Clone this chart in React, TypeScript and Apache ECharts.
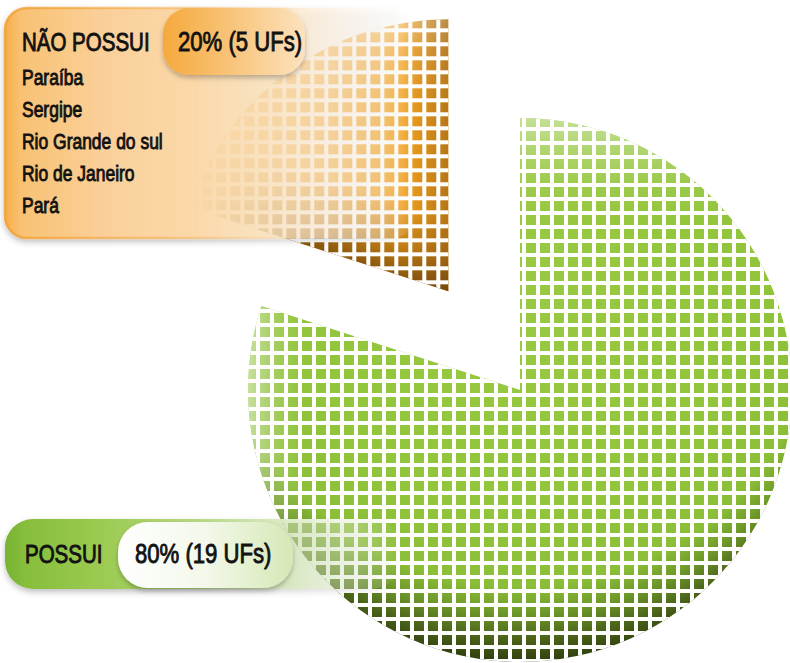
import React, { useEffect, useRef } from 'react';
import * as echarts from 'echarts';

// ---- data ----
const categories = ['POSSUI', 'NÃO POSSUI'];
const percentages = [80, 20];
const ufCounts = [19, 5];
const statesWithout = ['Paraíba', 'Sergipe', 'Rio Grande do sul', 'Rio de Janeiro', 'Pará'];

const FONT = '"Liberation Sans", Arial, "DejaVu Sans", sans-serif';
const NARROW = 0.82;

type Stop = [number, string];
const lin = (x: number, y: number, x2: number, y2: number, stops: Stop[]) =>
  new echarts.graphic.LinearGradient(x, y, x2, y2, stops.map(([offset, color]) => ({ offset, color })));
const rad = (x: number, y: number, r: number, stops: Stop[]) =>
  new echarts.graphic.RadialGradient(x, y, r, stops.map(([offset, color]) => ({ offset, color })));

// per-layer colours: [POSSUI (green), NÃO POSSUI (orange)]
const layerColors = () => [
  [
    rad(0.5, 0.3, 0.7, [
      [0, '#99c943'],
      [0.6, '#92c53b'],
      [0.8, '#8cbf38'],
      [0.87, '#6f9a2a'],
      [0.94, '#4b6419'],
      [1, '#2f3f0e'],
    ]),
    lin(0, 0, 0, 1, [
      [0, '#f9c878'],
      [0.12, '#f7b040'],
      [0.3, '#f5a623'],
      [1, '#f3a120'],
    ]),
  ],
  [
    lin(0, 0, 1, 0, [
      [0, 'rgba(255,255,255,0.5)'],
      [0.05, 'rgba(255,255,255,0.18)'],
      [0.1, 'rgba(255,255,255,0)'],
      [1, 'rgba(255,255,255,0)'],
    ]),
    lin(0, 0, 1, 0, [
      [0, 'rgba(90,50,0,0)'],
      [0.82, 'rgba(90,50,0,0)'],
      [1, 'rgba(90,50,0,0.4)'],
    ]),
  ],
  [
    lin(0, 0, 0, 1, [
      [0, 'rgba(255,255,255,0.45)'],
      [0.06, 'rgba(255,255,255,0.25)'],
      [0.12, 'rgba(255,255,255,0.08)'],
      [0.18, 'rgba(255,255,255,0)'],
      [1, 'rgba(255,255,255,0)'],
    ]),
    lin(0.584, 0.596, 0.499, 0.84, [
      [0, 'rgba(80,45,0,0)'],
      [0.5, 'rgba(80,45,0,0.25)'],
      [1, 'rgba(70,40,0,0.62)'],
    ]),
  ],
];

// white grid lines (4px) every 14px, leaving 10px squares
const gridDecal = {
  symbol: 'rect',
  symbolSize: 1,
  color: '#ffffff',
  dashArrayX: [[0, 4, 4, 6], [14, 0], [0, 4, 4, 6]],
  dashArrayY: [1, 0, 4, 0, 9, 0],
  rotation: 0,
};

function pieLayer(name: string, colors: any[], decal?: any) {
  return {
    type: 'pie',
    name,
    center: [520, 390],
    radius: [0, 272],
    startAngle: 90,
    clockwise: true,
    selectedMode: 'single',
    selectedOffset: 122,
    silent: true,
    avoidLabelOverlap: false,
    label: { show: false },
    labelLine: { show: false },
    emphasis: { disabled: true },
    data: categories.map((c, i) => ({
      name: c,
      value: percentages[i],
      selected: i === 1,
      itemStyle: decal
        ? { color: 'rgba(0,0,0,0)', borderWidth: 0, decal }
        : { color: colors[i], borderWidth: 0 },
    })),
  };
}

function label(text: string, x: number, baseline: number, size: number) {
  return {
    type: 'text', z: 102, silent: true,
    x, y: baseline - 0.3465 * size, scaleX: NARROW, scaleY: 1,
    style: {
      text, x: 0, y: 0, fontFamily: FONT, fontSize: size,
      fill: '#121212', stroke: '#121212', lineWidth: 0.9,
      textAlign: 'left', textVerticalAlign: 'middle',
    },
  };
}

function buildOption() {
  const lc = layerColors();
  const elements: any[] = [
    // NÃO POSSUI box
    {
      type: 'rect', z: 100, silent: true,
      shape: { x: 5, y: 8, width: 410, height: 230, r: 22 },
      style: {
        fill: lin(0, 0, 1, 0, [
          [0, '#f6ae48'],
          [0.04, '#f8c274'],
          [0.25, '#fad09a'],
          [0.45, '#fbd8a8'],
          [0.62, 'rgba(252,225,185,0.85)'],
          [0.8, 'rgba(255,240,222,0.6)'],
          [0.92, 'rgba(255,250,245,0.35)'],
          [1, 'rgba(255,255,255,0)'],
        ]),
        stroke: lin(0, 0, 1, 0, [
          [0, 'rgba(242,160,55,0.85)'],
          [0.45, 'rgba(245,175,80,0.5)'],
          [0.75, 'rgba(248,190,110,0)'],
          [1, 'rgba(248,190,110,0)'],
        ]),
        lineWidth: 2.5,
        shadowBlur: 6, shadowOffsetY: 3, shadowColor: 'rgba(0,0,0,0.25)',
      },
    },
    {
      type: 'rect', z: 101, silent: true,
      shape: { x: 163, y: 8, width: 142, height: 67, r: 26 },
      style: {
        fill: lin(0, 0, 1, 0, [
          [0, '#f5a93c'],
          [0.5, '#f8c57c'],
          [1, '#fce2bf'],
        ]),
        shadowBlur: 5, shadowOffsetY: 3, shadowColor: 'rgba(0,0,0,0.25)',
      },
    },
    label(categories[1], 22, 51, 25),
    label(`${percentages[1]}% (${ufCounts[1]} UFs)`, 178, 51, 27),
    ...statesWithout.map((s, i) => label(s, 22, 85 + 32 * i, 21.3)),
    // POSSUI box
    {
      type: 'rect', z: 100, silent: true,
      shape: { x: 5, y: 519, width: 395, height: 70, r: 28 },
      style: {
        fill: lin(0, 0, 1, 0, [
          [0, '#78b232'],
          [0.05, '#86be3c'],
          [0.25, '#9ccb52'],
          [0.5, 'rgba(175,212,115,0.85)'],
          [0.72, 'rgba(205,228,170,0.6)'],
          [0.88, 'rgba(225,238,205,0.35)'],
          [1, 'rgba(240,245,230,0)'],
        ]),
        shadowBlur: 6, shadowOffsetY: 3, shadowColor: 'rgba(0,0,0,0.25)',
      },
    },
    {
      type: 'rect', z: 101, silent: true,
      shape: { x: 118, y: 522, width: 175, height: 66, r: 30 },
      style: {
        fill: lin(0, 0, 1, 0, [
          [0, '#ffffff'],
          [0.5, '#f3f8ea'],
          [1, '#d5e8b5'],
        ]),
        shadowBlur: 5, shadowOffsetY: 3, shadowColor: 'rgba(0,0,0,0.25)',
      },
    },
    label(categories[0], 25, 563, 25),
    label(`${percentages[0]}% (${ufCounts[0]} UFs)`, 135, 563, 27),
  ];

  return {
    animation: false,
    backgroundColor: '#ffffff',
    series: [
      pieLayer('base', lc[0]),
      pieLayer('shadeA', lc[1]),
      pieLayer('shadeB', lc[2]),
      pieLayer('grid', [], gridDecal),
    ],
    graphic: { elements },
  };
}

export default function App() {
  const ref = useRef<HTMLDivElement>(null);
  useEffect(() => {
    document.body.style.margin = '0';
    if (!ref.current) return;
    const chart = echarts.init(ref.current, undefined, { renderer: 'svg' });
    chart.setOption(buildOption() as any);
    return () => chart.dispose();
  }, []);
  return <div ref={ref} style={{ width: 790, height: 663 }} />;
}
